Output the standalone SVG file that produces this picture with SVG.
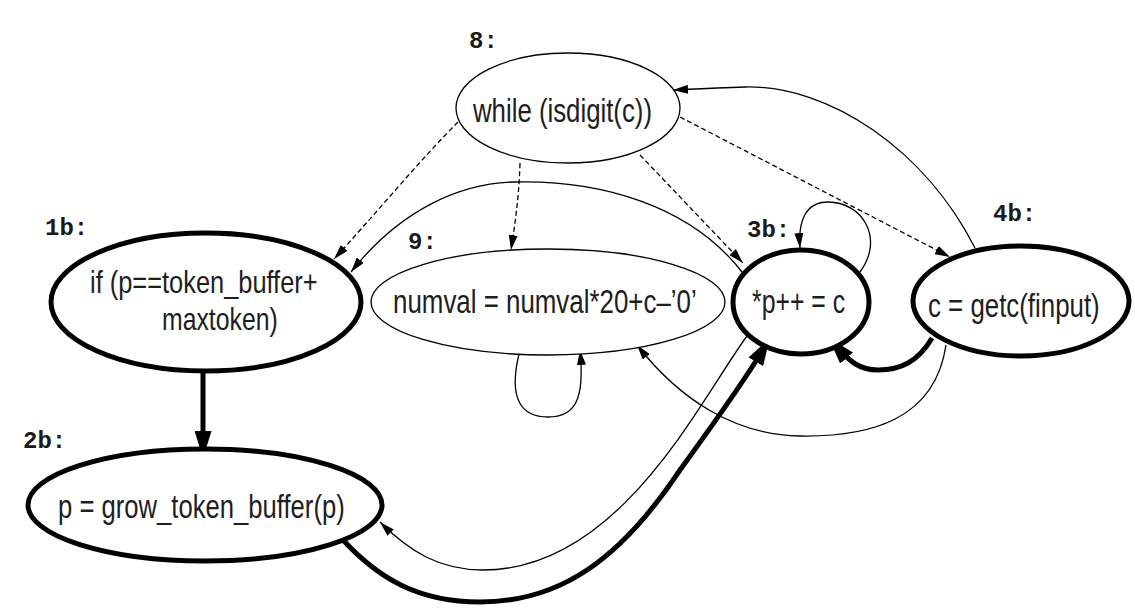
<svg xmlns="http://www.w3.org/2000/svg" width="1135" height="613" viewBox="0 0 1135 613">
  <style>
    .bg { fill: #ffffff; }
    .node { fill: #ffffff; stroke: #000; }
    .thin { stroke-width: 1.3; }
    .thick { stroke-width: 5; }
    .txt { font-family: "Liberation Sans", Arial, sans-serif; font-size: 34px; fill: #1e1e1e; text-anchor: start; }
    .txt2 { font-size: 32px; }
    .lbl { font-family: "Liberation Mono", "Courier New", monospace; font-weight: bold; font-size: 24px; fill: #1a1a1a; }
    .edge { fill: none; stroke: #000; }
    .e-thin { stroke-width: 1.3; marker-end: url(#ah); }
    .e-dash { stroke-width: 1.3; stroke-dasharray: 5 3; marker-end: url(#ah); }
    .e-bold { stroke-width: 5; marker-end: url(#ahBold); }
  </style>
  <defs>
    <marker id="ah" markerUnits="userSpaceOnUse" markerWidth="16" markerHeight="9" refX="15" refY="4.5" orient="auto">
      <path d="M0,0 L15,4.5 L0,9 z" fill="#000"/>
    </marker>
    <marker id="ahBold" markerUnits="userSpaceOnUse" markerWidth="28" markerHeight="17" refX="16" refY="8.5" orient="auto">
      <path d="M0,0 L27,8.5 L0,17 z" fill="#000"/>
    </marker>
  </defs>

  <rect class="bg" x="0" y="0" width="1135" height="613"/>

  <!-- connectors -->
  <g id="connectors">
    <!-- dashed edges out of the loop test -->
    <path class="edge e-dash" d="M458,122 C420,160 372,218 334,259"/>
    <path class="edge e-dash" d="M520,163 C519,200 514,230 511,250"/>
    <path class="edge e-dash" d="M640,155 L743,263"/>
    <path class="edge e-dash" d="M680,117 L950,257"/>
    <!-- thin edges -->
    <path class="edge e-thin" d="M975,248 C925,150 830,85 745,87 C715,88 695,89 673,90"/>
    <path class="edge e-thin" d="M742,272 C690,205 600,180 515,182 C460,183 400,210 351,272"/>
    <path class="edge e-thin" d="M860,272 C885,238 862,202 828,202 C805,202 798,222 800,248"/>
    <path class="edge e-thin" d="M946,345 C935,420 870,437 800,436 C735,435 680,400 637,345"/>
    <path class="edge e-thin" d="M519,354 C508,400 522,417 548,417 C575,417 585,400 580,350"/>
    <path class="edge e-thin" d="M747,336 C700,400 620,570 483,570 C440,570 410,552 380,522"/>
    <!-- bold edges -->
    <path class="edge e-bold" d="M203,372 L203,447"/>
    <path class="edge e-bold" d="M932,338 C918,362 900,370 878,370 C860,370 850,362 836,346"/>
    <path class="edge e-bold" d="M343,540 C380,580 420,602 480,602 C560,602 620,560 680,470 C720,415 745,380 764,348"/>
  </g>

  <!-- statement texts use a horizontally condensed sans -->
  <g id="n8">
    <ellipse class="node thin" cx="568" cy="108" rx="112" ry="55"/>
    <text class="lbl" x="469" y="48">8:</text>
    <text class="txt" transform="translate(473,122) scale(0.81,1)" textLength="221" lengthAdjust="spacingAndGlyphs">while (isdigit(c))</text>
  </g>

  <g id="n1b">
    <ellipse class="node thick" cx="206" cy="302" rx="155" ry="69"/>
    <text class="lbl" x="45" y="235">1b:</text>
    <text class="txt txt2" transform="translate(90,293) scale(0.81,1)" textLength="281" lengthAdjust="spacingAndGlyphs">if (p==token_buffer+</text>
    <text class="txt txt2" transform="translate(162,330) scale(0.81,1)" textLength="143" lengthAdjust="spacingAndGlyphs">maxtoken)</text>
  </g>

  <g id="n2b">
    <ellipse class="node thick" cx="205" cy="505" rx="177" ry="56"/>
    <text class="lbl" x="23" y="448">2b:</text>
    <text class="txt" transform="translate(58,518) scale(0.81,1)" textLength="354" lengthAdjust="spacingAndGlyphs">p = grow_token_buffer(p)</text>
  </g>

  <g id="n9">
    <ellipse class="node thin" cx="548" cy="302" rx="177" ry="53"/>
    <text class="lbl" x="408" y="249">9:</text>
    <text class="txt" transform="translate(393,313) scale(0.81,1)" textLength="375" lengthAdjust="spacingAndGlyphs">numval = numval*20+c–’0’</text>
  </g>

  <g id="n3b">
    <ellipse class="node thick" cx="801" cy="302" rx="68" ry="52"/>
    <text class="lbl" x="747" y="237">3b:</text>
    <text class="txt" transform="translate(752,313) scale(0.81,1)" textLength="115" lengthAdjust="spacingAndGlyphs">*p++ = c</text>
  </g>

  <g id="n4b">
    <ellipse class="node thick" cx="1021" cy="301" rx="108" ry="55"/>
    <text class="lbl" x="993" y="221">4b:</text>
    <text class="txt" transform="translate(928,317) scale(0.81,1)" textLength="212" lengthAdjust="spacingAndGlyphs">c = getc(finput)</text>
  </g>
</svg>
